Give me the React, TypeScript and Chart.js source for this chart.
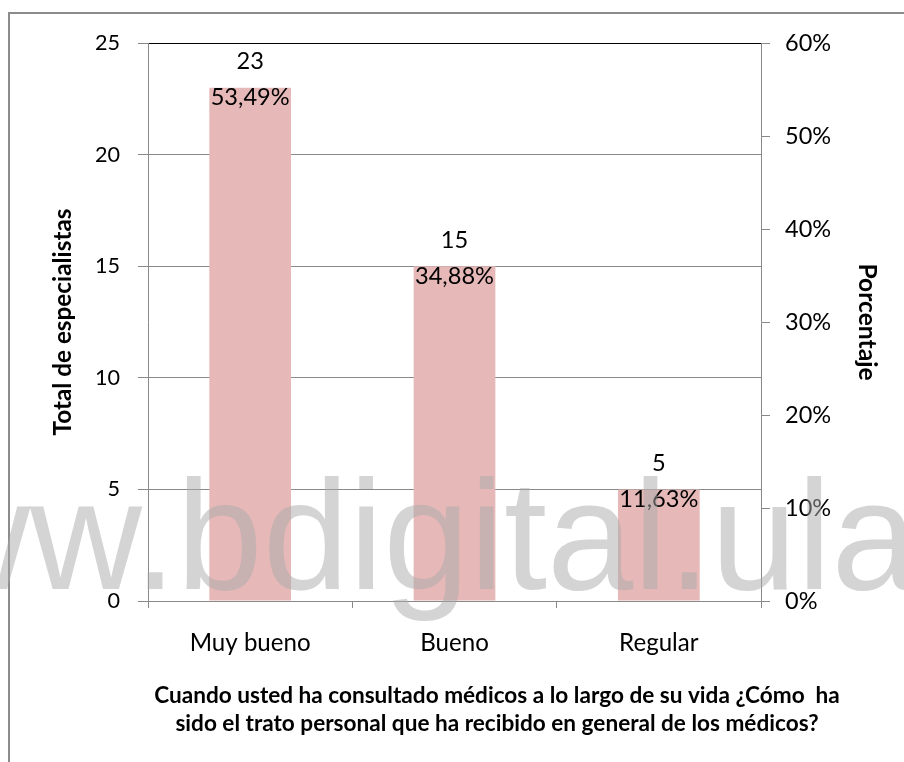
import { useEffect, useRef } from 'react';
import { Chart, registerables } from 'chart.js';

Chart.register(...registerables);

// ---- data ----
const categories: string[] = ['Muy bueno', 'Bueno', 'Regular'];
const counts: number[] = [23, 15, 5];
const percentages: number[] = [53.49, 34.88, 11.63];
const countTickLabels: string[] = ['0', '5', '10', '15', '20', '25'];
const percentTickLabels: string[] = ['0%', '10%', '20%', '30%', '40%', '50%', '60%'];
const leftTitle = 'Total de especialistas';
const rightTitle = 'Porcentaje';
const xTitleLines: string[] = [
  'Cuando usted ha consultado médicos a lo largo de su vida ¿Cómo  ha',
  'sido el trato personal que ha recibido en general de los médicos?',
];
const watermark = 'www.bdigital.ula.ve';

const FAMILY = 'Lato, "Noto Sans", sans-serif';
const GRID = '#898989';

function fitSize(text: string, weight: string, target: number): number {
  const c = document.createElement('canvas').getContext('2d')!;
  c.font = `${weight} 100px ${FAMILY}`;
  const w = c.measureText(text).width;
  return Math.round((1000 * target) / w) / 10;
}

const fmtPct = (v: number) => v.toFixed(2).replace('.', ',') + '%';

export default function App() {
  const ref = useRef<HTMLCanvasElement>(null);

  useEffect(() => {
    const canvas = ref.current!;
    const tickL = fitSize('25', 'normal', 25);
    const tickR = fitSize('60%', 'normal', 46);
    const catSize = fitSize('Muy bueno', 'normal', 121);
    const lblSize = fitSize('53,49%', 'normal', 79);
    const ltSize = fitSize(leftTitle, 'bold', 227);
    const rtSize = fitSize(rightTitle, 'bold', 117);
    const xtSize = fitSize(xTitleLines[0], 'bold', 685);

    const framePlugin = {
      id: 'frame',
      beforeDraw(chart: any) {
        const ctx = chart.ctx;
        ctx.save();
        ctx.strokeStyle = '#8c8c8c';
        ctx.lineWidth = 2;
        ctx.beginPath();
        ctx.moveTo(9, chart.height);
        ctx.lineTo(9, 13);
        ctx.lineTo(chart.width, 13);
        ctx.stroke();
        ctx.restore();
      },
    };

    const labelPlugin = {
      id: 'barLabels',
      afterDatasetsDraw(chart: any) {
        const ctx = chart.ctx;
        const meta = chart.getDatasetMeta(0);
        ctx.save();
        ctx.fillStyle = '#000';
        ctx.textAlign = 'center';
        ctx.textBaseline = 'alphabetic';
        ctx.font = `normal ${lblSize}px ${FAMILY}`;
        const half = 0.36 * lblSize;
        meta.data.forEach((bar: any, i: number) => {
          ctx.fillText(String(counts[i]), bar.x, bar.y - 27 + half);
          ctx.fillText(fmtPct(percentages[i]), bar.x, bar.y + 9 + half);
        });
        ctx.restore();
      },
    };

    const overlayPlugin = {
      id: 'overlay',
      afterDraw(chart: any) {
        const ctx = chart.ctx;
        ctx.save();
        ctx.fillStyle = '#000';
        ctx.textAlign = 'center';
        ctx.textBaseline = 'alphabetic';
        ctx.font = `bold ${xtSize}px ${FAMILY}`;
        ctx.fillText(xTitleLines[0], 497, 703);
        ctx.fillText(xTitleLines[1], 497, 731);
        // watermark
        ctx.font = `normal 155px "Liberation Sans", Arial, sans-serif`;
        ctx.textAlign = 'left';
        ctx.fillStyle = 'rgba(170,170,170,0.5)';
        const x0 = 142 - ctx.measureText('www').width;
        ctx.fillText(watermark, x0, 589);
        ctx.restore();
      },
    };

    const chart = new Chart(canvas, {
      type: 'bar',
      data: {
        labels: categories,
        datasets: [
          {
            data: counts,
            backgroundColor: '#E6B9B8',
            borderWidth: 0,
            yAxisID: 'y',
            categoryPercentage: 1,
            barPercentage: 0.4,
          },
        ],
      },
      options: {
        responsive: false,
        animation: false,
        devicePixelRatio: 1,
        layout: { padding: { left: 0, right: 0, top: 43, bottom: 0 } },
        plugins: { legend: { display: false }, tooltip: { enabled: false } },
        scales: {
          x: {
            position: 'bottom',
            grid: {
              display: true,
              drawOnChartArea: false,
              drawTicks: true,
              tickLength: 7,
              color: GRID,
              offset: true,
            },
            border: { display: true, color: GRID },
            ticks: {
              color: '#000',
              padding: 21,
              font: { family: FAMILY, size: catSize, lineHeight: 1.2 },
              maxRotation: 0,
            },
            afterFit(scale: any) {
              scale.height = 161;
            },
          },
          y: {
            position: 'left',
            min: 0,
            max: 25,
            ticks: {
              stepSize: 5,
              color: '#000',
              padding: 18,
              font: { family: FAMILY, size: tickL },
              callback: (_v: any, i: number) => countTickLabels[i],
            },
            grid: {
              color: (c: any) => (c.tick && c.tick.value === 25 ? '#000' : GRID),
              tickColor: GRID,
              tickLength: 10,
            },
            border: { display: true, color: GRID },
            title: {
              display: true,
              text: leftTitle,
              color: '#000',
              font: { family: FAMILY, size: ltSize, weight: 'bold', lineHeight: 1.2 },
              padding: { top: 63 - 0.6 * ltSize, bottom: 0 },
            },
            afterFit(scale: any) {
              scale.width = 148;
            },
          },
          y1: {
            position: 'right',
            min: 0,
            max: 60,
            ticks: {
              stepSize: 10,
              color: '#000',
              padding: 15,
              font: { family: FAMILY, size: tickR },
              callback: (_v: any, i: number) => percentTickLabels[i],
            },
            grid: {
              drawOnChartArea: false,
              color: GRID,
              tickLength: 9,
            },
            border: { display: true, color: GRID },
            title: {
              display: true,
              text: rightTitle,
              color: '#000',
              font: { family: FAMILY, size: rtSize, weight: 'bold', lineHeight: 1.2 },
              padding: { top: 37 - 0.6 * rtSize, bottom: 0 },
            },
            afterFit(scale: any) {
              scale.width = 143;
            },
          },
        },
      } as any,
      plugins: [framePlugin, labelPlugin, overlayPlugin],
    });

    return () => chart.destroy();
  }, []);

  return (
    <div style={{ position: 'absolute', left: 0, top: 0, width: 904, height: 762, background: '#fff' }}>
      <canvas ref={ref} width={904} height={762} style={{ display: 'block', width: 904, height: 762 }} />
    </div>
  );
}
